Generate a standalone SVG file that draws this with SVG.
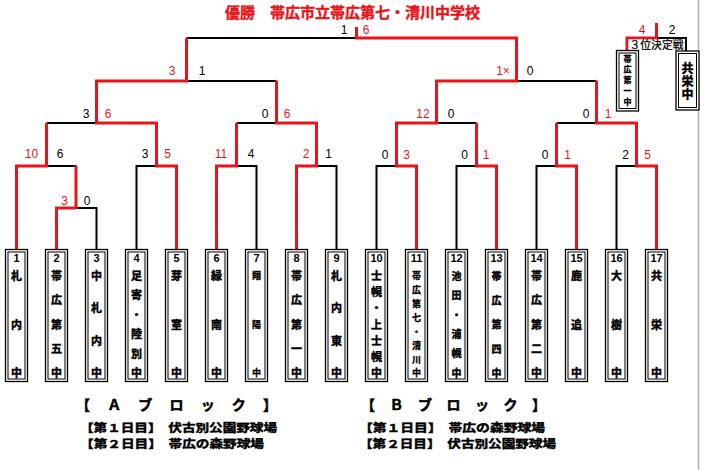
<svg xmlns="http://www.w3.org/2000/svg" width="704" height="470" viewBox="0 0 704 470">
<style>
.k{fill:none;stroke:#000;stroke-width:2}
.r{fill:none;stroke:#e8141c;stroke-width:3}
.o{fill:#fff;stroke:#000;stroke-width:1.3}
.i{fill:none;stroke:#000;stroke-width:1}
.s{font-family:"Liberation Sans",Arial,sans-serif;font-size:12px;text-anchor:middle;fill:#000}
.sr{font-family:"Liberation Sans",Arial,sans-serif;font-size:12px;text-anchor:middle;fill:#e8141c}
.n{font-family:"Liberation Sans",Arial,sans-serif;font-size:11px;font-weight:bold;text-anchor:middle;fill:#000}
.c{font-family:"Noto Sans CJK JP",sans-serif;font-size:11px;font-weight:bold;text-anchor:middle;fill:#000;stroke:#000;stroke-width:0.45}
.c10{font-size:10px}
.c9{font-size:9px;stroke-width:0.35}
.t{font-family:"Noto Sans CJK JP",sans-serif;font-weight:bold;fill:#000;stroke:#000;stroke-width:0.5}
</style>
<rect width="704" height="470" fill="#fff"/>
<line x1="698.5" y1="0" x2="698.5" y2="470" stroke="#b4b4b4" stroke-width="1.5"/>
<text id="title" x="225" y="17.5" font-family="Noto Sans CJK JP,sans-serif" font-size="15" font-weight="bold" fill="#e8141c" stroke="#e8141c" stroke-width="0.4">優勝　帯広市立帯広第七・清川中学校</text>
<g id="connectors">
<path class="k" d="M96.5 249V208H76.5"/>
<path class="k" d="M46.5 166H76.5"/>
<path class="k" d="M136.5 249V166H156.5"/>
<path class="k" d="M46.5 123H96.5"/>
<path class="k" d="M256.5 249V166H236.5"/>
<path class="k" d="M336.5 249V166H316.5"/>
<path class="k" d="M236.5 123H276.5"/>
<path class="k" d="M186.5 81H276.5"/>
<path class="k" d="M186.5 38H356.5"/>
<path class="k" d="M516.5 81H596.5"/>
<path class="k" d="M436.5 123H476.5"/>
<path class="k" d="M556.5 123H596.5"/>
<path class="k" d="M376.5 249V166H396.5"/>
<path class="k" d="M456.5 249V166H476.5"/>
<path class="k" d="M536.5 249V166H556.5"/>
<path class="k" d="M616.5 249V166H636.5"/>
<path class="k" d="M656.5 38H686V51"/>
<path class="r" d="M56.5 249V208H76.5"/>
<path class="r" stroke-width="2.2" d="M76 208V166"/>
<path class="r" d="M16.5 249V166H46.5V123"/>
<path class="r" d="M176.5 249V166H156.5V123H96.5V81H186.5V38"/>
<path class="r" d="M216.5 249V166H236.5V123"/>
<path class="r" d="M296.5 249V166H316.5V123H276.5V81"/>
<path class="r" d="M416.5 249V166H396.5V123H436.5V81H516.5V38H356.5V27"/>
<path class="r" d="M496.5 249V166H476.5V123"/>
<path class="r" d="M576.5 249V166H556.5V123"/>
<path class="r" d="M656.5 249V166H636.5V123H596.5V81"/>
<path class="r" d="M627 51V38H656.5V23"/>
</g>
<g id="scores">
<text class="s" x="344" y="33.5">1</text><text class="sr" x="366" y="33.5">6</text>
<text class="sr" x="172" y="75">3</text><text class="s" x="202" y="75">1</text>
<text class="sr" x="503" y="75">1×</text><text class="s" x="530" y="75">0</text>
<text class="s" x="86" y="117.5">3</text><text class="sr" x="108" y="117.5">6</text>
<text class="s" x="265" y="117.5">0</text><text class="sr" x="287" y="117.5">6</text>
<text class="sr" x="423" y="117.5">12</text><text class="s" x="451" y="117.5">0</text>
<text class="s" x="586" y="117.5">0</text><text class="sr" x="608" y="117.5">1</text>
<text class="sr" x="31.5" y="158">10</text><text class="s" x="60" y="158">6</text>
<text class="s" x="145" y="158">3</text><text class="sr" x="167.5" y="158">5</text>
<text class="sr" x="221" y="158">11</text><text class="s" x="251" y="158">4</text>
<text class="sr" x="306" y="158">2</text><text class="s" x="328.5" y="158">1</text>
<text class="sr" x="64.5" y="204.5">3</text><text class="s" x="87" y="204.5">0</text>
<text class="s" x="385" y="159">0</text><text class="sr" x="406.5" y="159">3</text>
<text class="s" x="464.5" y="159">0</text><text class="sr" x="486" y="159">1</text>
<text class="s" x="545" y="159">0</text><text class="sr" x="567.5" y="159">1</text>
<text class="s" x="625.5" y="159">2</text><text class="sr" x="647.5" y="159">5</text>
<text class="sr" x="642" y="34">4</text><text class="s" x="672" y="34">2</text>
</g>
<g id="third-label">
<rect x="628.5" y="39.5" width="56" height="11" fill="#fff"/>
<text x="656.5" y="49" font-family="Noto Sans CJK JP,sans-serif" font-size="11" text-anchor="middle" fill="#000" stroke="#000" stroke-width="0.25" textLength="54" lengthAdjust="spacingAndGlyphs">３位決定戦</text>
</g>
<g id="third-1">
<rect class="o" x="616.5" y="50.5" width="22" height="60.5"/><rect class="i" x="619" y="53" width="17" height="55.5"/>
<text class="c" x="627.5 627.5 627.5 627.5 627.5" y="61.5 72.2 83 93.7 104.5" style="font-size:8px;stroke-width:0.35">帯広第一中</text>
</g>
<g id="third-2">
<rect class="o" x="676" y="51" width="23" height="59"/><rect class="i" x="678.5" y="53.5" width="18" height="54"/>
<text class="c" x="687.5 687.5 687.5" y="73 86 99" style="font-size:12px">共栄中</text>
</g>
<g id="team-1"><rect class="o" x="5.5" y="249.5" width="22" height="132"/><rect class="i" x="8" y="252" width="17" height="127"/><text class="n" x="16.5" y="262">1</text><text class="c" x="16.5 16.5 16.5" y="280 328.5 377">札内中</text></g>
<g id="team-2"><rect class="o" x="45.5" y="249.5" width="22" height="132"/><rect class="i" x="48" y="252" width="17" height="127"/><text class="n" x="56.5" y="262">2</text><text class="c" x="56.5 56.5 56.5 56.5 56.5" y="280 304.2 328.5 352.7 377">帯広第五中</text></g>
<g id="team-3"><rect class="o" x="85.5" y="249.5" width="22" height="132"/><rect class="i" x="88" y="252" width="17" height="127"/><text class="n" x="96.5" y="262">3</text><text class="c" x="96.5 96.5 96.5 96.5" y="280 312.3 344.7 377">中札内中</text></g>
<g id="team-4"><rect class="o" x="125.5" y="249.5" width="22" height="132"/><rect class="i" x="128" y="252" width="17" height="127"/><text class="n" x="136.5" y="262">4</text><text class="c" x="136.5 136.5 136.5 136.5 136.5 136.5" y="280 299.4 318.8 338.2 357.6 377">足寄・陸別中</text></g>
<g id="team-5"><rect class="o" x="165.5" y="249.5" width="22" height="132"/><rect class="i" x="168" y="252" width="17" height="127"/><text class="n" x="176.5" y="262">5</text><text class="c" x="176.5 176.5 176.5" y="280 328.5 377">芽室中</text></g>
<g id="team-6"><rect class="o" x="205.5" y="249.5" width="22" height="132"/><rect class="i" x="208" y="252" width="17" height="127"/><text class="n" x="216.5" y="262">6</text><text class="c" x="216.5 216.5 216.5" y="280 328.5 377">緑南中</text></g>
<g id="team-7"><rect class="o" x="245.5" y="249.5" width="22" height="132"/><rect class="i" x="248" y="252" width="17" height="127"/><text class="n" x="256.5" y="262">7</text><text class="c c9" x="256.5 256.5 256.5" y="279.4 327.9 376.4">翔陽中</text></g>
<g id="team-8"><rect class="o" x="285.5" y="249.5" width="22" height="132"/><rect class="i" x="288" y="252" width="17" height="127"/><text class="n" x="296.5" y="262">8</text><text class="c" x="296.5 296.5 296.5 296.5 296.5" y="280 304.2 328.5 352.7 377">帯広第一中</text></g>
<g id="team-9"><rect class="o" x="325.5" y="249.5" width="22" height="132"/><rect class="i" x="328" y="252" width="17" height="127"/><text class="n" x="336.5" y="262">9</text><text class="c" x="336.5 336.5 336.5 336.5" y="280 312.3 344.7 377">札内東中</text></g>
<g id="team-10"><rect class="o" x="365.5" y="249.5" width="22" height="132"/><rect class="i" x="368" y="252" width="17" height="127"/><text class="n" x="376.5" y="262">10</text><text class="c" x="376.5 376.5 376.5 376.5 376.5 376.5 376.5" y="280 296.2 312.3 328.5 344.7 360.8 377">士幌・上士幌中</text></g>
<g id="team-11"><rect class="o" x="405.5" y="249.5" width="22" height="132"/><rect class="i" x="408" y="252" width="17" height="127"/><text class="n" x="416.5" y="262">11</text><text class="c c9" x="416.5 416.5 416.5 416.5 416.5 416.5 416.5 416.5" y="279.4 293.3 307.1 321 334.8 348.7 362.5 376.4">帯広第七・清川中</text></g>
<g id="team-12"><rect class="o" x="445.5" y="249.5" width="22" height="132"/><rect class="i" x="448" y="252" width="17" height="127"/><text class="n" x="456.5" y="262">12</text><text class="c c10" x="456.5 456.5 456.5 456.5 456.5 456.5" y="279.8 299.2 318.6 338 357.4 376.8">池田・浦幌中</text></g>
<g id="team-13"><rect class="o" x="485.5" y="249.5" width="22" height="132"/><rect class="i" x="488" y="252" width="17" height="127"/><text class="n" x="496.5" y="262">13</text><text class="c c10" x="496.5 496.5 496.5 496.5 496.5" y="279.8 304 328.3 352.5 376.8">帯広第四中</text></g>
<g id="team-14"><rect class="o" x="525.5" y="249.5" width="22" height="132"/><rect class="i" x="528" y="252" width="17" height="127"/><text class="n" x="536.5" y="262">14</text><text class="c" x="536.5 536.5 536.5 536.5 536.5" y="280 304.2 328.5 352.7 377">帯広第二中</text></g>
<g id="team-15"><rect class="o" x="565.5" y="249.5" width="22" height="132"/><rect class="i" x="568" y="252" width="17" height="127"/><text class="n" x="576.5" y="262">15</text><text class="c" x="576.5 576.5 576.5" y="280 328.5 377">鹿追中</text></g>
<g id="team-16"><rect class="o" x="605.5" y="249.5" width="22" height="132"/><rect class="i" x="608" y="252" width="17" height="127"/><text class="n" x="616.5" y="262">16</text><text class="c" x="616.5 616.5 616.5" y="280 328.5 377">大樹中</text></g>
<g id="team-17"><rect class="o" x="645.5" y="249.5" width="22" height="132"/><rect class="i" x="648" y="252" width="17" height="127"/><text class="n" x="656.5" y="262">17</text><text class="c" x="656.5 656.5 656.5" y="280 328.5 377">共栄中</text></g>
<g id="legend">
<text class="t" x="76" y="410" font-size="14" textLength="201" lengthAdjust="spacing">【　Ａ　ブ　ロ　ッ　ク　】</text>
<text class="t" font-size="12" transform="translate(80,432) scale(1,0.9)" x="0" y="0" textLength="197" lengthAdjust="spacingAndGlyphs">【第１日目】　伏古別公園野球場</text>
<text class="t" font-size="12" transform="translate(80,448) scale(1,0.9)" x="0" y="0" textLength="184" lengthAdjust="spacingAndGlyphs">【第２日目】　帯広の森野球場</text>
<text class="t" x="361" y="410" font-size="14" textLength="185" lengthAdjust="spacing">【　Ｂ　ブ　ロ　ッ　ク　】</text>
<text class="t" font-size="12" transform="translate(359,432) scale(1,0.9)" x="0" y="0" textLength="186" lengthAdjust="spacingAndGlyphs">【第１日目】　帯広の森野球場</text>
<text class="t" font-size="12" transform="translate(359,448) scale(1,0.9)" x="0" y="0" textLength="197" lengthAdjust="spacingAndGlyphs">【第２日目】　伏古別公園野球場</text>
</g>
</svg>
